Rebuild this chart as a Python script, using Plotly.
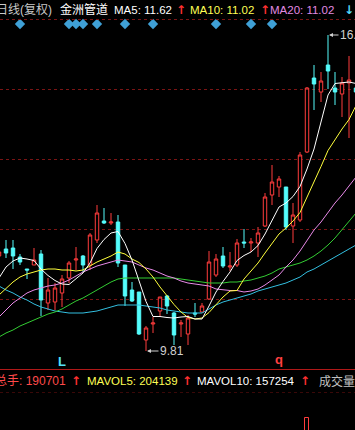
import plotly.graph_objects as go

# ---------------- data ----------------
idx = list(range(52))
opens = [11.71, 11.85, 11.87, 11.69, 11.45, 11.53, 11.75, 10.77, 10.79, 10.97,
         11.27, 11.63, 11.71, 11.53, 12.03, 12.41, 12.37, 12.39, 11.53, 11.03,
         10.99, 10.03, 10.35, 10.61, 10.91, 10.57, 10.35, 10.15, 10.57, 10.59,
         10.85, 11.33, 11.71, 11.49, 11.53, 11.99, 11.97, 11.97, 12.31, 12.93,
         13.09, 13.09, 12.31, 12.43, 13.79, 15.27, 14.99, 15.53, 15.07, 14.95,
         15.17, 15.07]
highs = [11.87, 12.03, 12.03, 11.75, 11.45, 11.87, 11.83, 11.27, 11.17, 11.33,
         11.61, 11.89, 11.73, 12.17, 12.73, 12.67, 12.57, 12.53, 11.53, 11.19,
         10.99, 10.31, 10.49, 10.89, 10.93, 10.59, 10.43, 10.53, 10.77, 10.77,
         11.81, 11.75, 11.89, 11.79, 12.05, 12.25, 12.07, 12.29, 12.97, 13.53,
         13.31, 13.09, 12.77, 13.79, 15.09, 15.53, 15.39, 16.13, 15.39, 15.29,
         15.71, 15.23]
lows = [11.67, 11.67, 11.45, 11.53, 11.25, 11.53, 10.51, 10.63, 10.63, 10.69,
        11.17, 11.43, 11.39, 11.43, 11.97, 12.35, 12.33, 11.49, 10.71, 10.79,
        10.13, 9.81, 10.17, 10.49, 10.55, 9.93, 10.09, 9.93, 10.49, 10.59,
        10.83, 11.29, 11.47, 11.41, 11.49, 11.87, 11.79, 11.69, 12.29, 12.73,
        12.89, 12.23, 11.97, 12.39, 13.77, 14.63, 14.79, 15.05, 14.73, 14.49,
        14.07, 14.83]
closes = [11.79, 11.77, 11.71, 11.59, 11.43, 11.63, 10.83, 11.03, 11.07, 11.25,
          11.57, 11.65, 11.53, 12.13, 12.57, 12.37, 12.39, 11.57, 10.91, 10.81,
          10.15, 10.27, 10.37, 10.89, 10.71, 10.13, 10.37, 10.47, 10.55, 10.71,
          11.59, 11.65, 11.51, 11.51, 11.97, 11.97, 11.99, 12.17, 12.89, 13.19,
          13.25, 12.29, 12.53, 13.73, 15.07, 15.15, 15.21, 15.41, 14.99, 15.17,
          15.23, 14.99]

ma5 = [11.27, 11.49, 11.61, 11.67, 11.65, 11.62, 11.45, 11.32, 11.22, 11.15,
       11.14, 11.26, 11.37, 11.57, 11.86, 12.04, 12.17, 12.20, 11.96, 11.63,
       11.22, 10.80, 10.50, 10.50, 10.48, 10.47, 10.49, 10.50, 10.45, 10.45,
       10.71, 10.99, 11.20, 11.39, 11.62, 11.72, 11.79, 11.92, 12.15, 12.42,
       12.69, 12.77, 12.90, 13.10, 13.45, 13.85, 14.40, 14.93, 15.16, 15.18,
       15.19, 15.16]
ma10 = [10.93, 11.07, 11.19, 11.29, 11.35, 11.39, 11.43, 11.45, 11.45, 11.43,
        11.43, 11.41, 11.43, 11.51, 11.59, 11.65, 11.71, 11.79, 11.75, 11.65,
        11.58, 11.45, 11.29, 11.09, 10.91, 10.74, 10.59, 10.48, 10.45, 10.47,
        10.58, 10.73, 10.89, 11.01, 11.02, 11.25, 11.41, 11.57, 11.77, 11.96,
        12.15, 12.27, 12.41, 12.58, 12.88, 13.18, 13.50, 13.82, 14.04, 14.25,
        14.44, 14.72]
ma20 = [10.49, 10.63, 10.77, 10.87, 10.97, 11.03, 11.07, 11.11, 11.13, 11.17,
        11.23, 11.31, 11.39, 11.45, 11.51, 11.55, 11.59, 11.63, 11.61, 11.59,
        11.53, 11.47, 11.43, 11.37, 11.31, 11.27, 11.21, 11.17, 11.15, 11.13,
        11.11, 11.05, 11.03, 11.02, 11.02, 10.99, 11.01, 11.05, 11.13, 11.23,
        11.33, 11.49, 11.63, 11.81, 12.03, 12.23, 12.39, 12.59, 12.77, 12.93,
        13.11, 13.29]
ma30 = [10.09, 10.17, 10.23, 10.31, 10.37, 10.43, 10.49, 10.55, 10.59, 10.65,
        10.73, 10.81, 10.87, 10.95, 11.03, 11.11, 11.19, 11.25, 11.27, 11.27,
        11.27, 11.27, 11.27, 11.27, 11.27, 11.27, 11.25, 11.23, 11.21, 11.19,
        11.17, 11.17, 11.17, 11.19, 11.19, 11.21, 11.23, 11.27, 11.31, 11.37,
        11.45, 11.49, 11.53, 11.57, 11.63, 11.71, 11.81, 11.93, 12.07, 12.23,
        12.39, 12.57]
ma60 = [11.11, 11.03, 10.97, 10.89, 10.83, 10.75, 10.69, 10.65, 10.61, 10.59,
        10.57, 10.57, 10.57, 10.59, 10.61, 10.65, 10.69, 10.73, 10.73, 10.73,
        10.73, 10.71, 10.69, 10.67, 10.63, 10.61, 10.59, 10.57, 10.57, 10.57,
        10.65, 10.73, 10.79, 10.83, 10.87, 10.91, 10.95, 11.01, 11.05, 11.09,
        11.13, 11.17, 11.23, 11.29, 11.39, 11.45, 11.53, 11.61, 11.69, 11.77,
        11.85, 11.93]

signal_idx = [3, 10, 11, 12, 14, 18, 22, 31, 36, 39]
vol_idx = [44]
vol_val = [297000]

low_idx, low_val = 21, 9.81
high_idx, high_val = 47, 16.13
grid_prices = [15.05, 13.65, 12.25, 10.85]

# ---------------- layout helpers ----------------
W, H = 355, 430
def pxx(x):
    return x / W
def pxy(y):
    return (H - y) / H

UP = "#ff3c3c"
DN = "#54fcfc"
FONT = "Liberation Sans, Arial, Noto Sans CJK SC"
ARROWFONT = "DejaVu Sans"

fig = go.Figure()

fig.add_trace(go.Candlestick(
    x=idx, open=opens, high=highs, low=lows, close=closes,
    increasing=dict(line=dict(color=UP, width=1), fillcolor="#000000"),
    decreasing=dict(line=dict(color=DN, width=1), fillcolor=DN),
    whiskerwidth=0, xaxis="x", yaxis="y", hoverinfo="skip",
))

for vals, col in [(ma60, "#33bfe0"), (ma30, "#33cc33"), (ma20, "#e88ae8"),
                  (ma10, "#ffff3c"), (ma5, "#ffffff")]:
    fig.add_trace(go.Scatter(x=idx, y=vals, mode="lines",
                             line=dict(color=col, width=1),
                             xaxis="x", yaxis="y", hoverinfo="skip"))

# signal diamonds (full-height axis in paper units)
fig.add_trace(go.Scatter(x=signal_idx, y=[pxy(24)] * len(signal_idx),
                         mode="markers", xaxis="x", yaxis="y3",
                         marker=dict(symbol="diamond", size=8, color="#3fa0d6",
                                     line=dict(width=0)),
                         hoverinfo="skip", cliponaxis=False))

# volume bars (only tops visible)
fig.add_trace(go.Bar(x=vol_idx, y=vol_val, width=0.7, xaxis="x", yaxis="y2",
                     marker=dict(color="#000000", line=dict(color=UP, width=1)),
                     hoverinfo="skip"))

xr = [1 / 7, 356 / 7]
fig.update_layout(
    width=W, height=H, margin=dict(l=0, r=0, t=0, b=0),
    paper_bgcolor="#000000", plot_bgcolor="rgba(0,0,0,0)",
    showlegend=False, bargap=0,
    xaxis=dict(range=xr, visible=False, rangeslider=dict(visible=False),
               fixedrange=True),
    yaxis=dict(domain=[pxy(369), pxy(19)], range=[9.45, 16.45],
               tickvals=grid_prices, showticklabels=False, showgrid=True,
               gridcolor="#7a1414", griddash="dot", gridwidth=1,
               zeroline=False, showline=False),
    yaxis2=dict(domain=[0, pxy(392)], range=[250000, 400000], visible=False),
    yaxis3=dict(domain=[0, 1], range=[0, 1], visible=False),
)

shapes = [
    dict(type="line", xref="paper", yref="paper", x0=0, x1=1,
         y0=pxy(19.5), y1=pxy(19.5), line=dict(color="#7a1414", width=1, dash="dot")),
    dict(type="line", xref="paper", yref="paper", x0=0, x1=1,
         y0=pxy(369.5), y1=pxy(369.5), line=dict(color="#b01818", width=1)),
    dict(type="line", xref="paper", yref="paper", x0=0, x1=1,
         y0=pxy(392.5), y1=pxy(392.5), line=dict(color="#3a0808", width=1, dash="dot")),
]
fig.update_layout(shapes=shapes)

ann = []
def label(text, x, y, color, size=11.5, bold=False, family=FONT):
    t = f"<b>{text}</b>" if bold else text
    ann.append(dict(text=t, x=pxx(x), y=pxy(y), xref="paper", yref="paper",
                    xanchor="left", yanchor="middle", showarrow=False,
                    font=dict(family=family, size=size, color=color)))

# header
label("日线(复权)", -6, 9.5, "#c8c8c8", size=12)
label("金洲管道", 58, 9.5, "#ffffff", size=12)
label("MA5: 11.62", 112, 9.5, "#ffffff")
label("↑", 174, 9.5, "#ff3030", size=12, bold=True, family=ARROWFONT)
label("MA10: 11.02", 188, 9.5, "#ffff54")
label("↑", 258, 9.5, "#ff3030", size=12, bold=True, family=ARROWFONT)
label("MA20: 11.02", 268, 9.5, "#e08ae0")
label("↓", 342, 9.5, "#54d8f8", size=12, bold=True, family=ARROWFONT)

# volume header
label("总手: 190701", -7, 381, "#ff4a4a", size=12)
label("↑", 69, 381, "#ff3030", size=12, bold=True, family=ARROWFONT)
label("MAVOL5: 204139", 85, 381, "#ffff54")
label("↑", 180, 381, "#ff3030", size=12, bold=True, family=ARROWFONT)
label("MAVOL10: 157254", 195, 381, "#ffffff")
label("↑", 298, 381, "#ff3030", size=12, bold=True, family=ARROWFONT)
label("成交量图", 317, 381, "#c0c0c0", size=12)

# L / q markers
ann.append(dict(text="<b>L</b>", x=9, y=pxy(361), xref="x", yref="paper",
                xanchor="center", yanchor="middle", showarrow=False,
                font=dict(family=FONT, size=13, color="#54e0f8")))
ann.append(dict(text="<b>q</b>", x=40, y=pxy(360), xref="x", yref="paper",
                xanchor="center", yanchor="middle", showarrow=False,
                font=dict(family=FONT, size=13, color="#ff4040")))

# low / high price labels
ann.append(dict(text="9.81", x=low_idx, y=low_val, xref="x", yref="y",
                showarrow=True, ax=26, ay=0, arrowhead=2, arrowsize=0.8,
                arrowwidth=1, arrowcolor="#d0d0d0", standoff=1,
                font=dict(family=FONT, size=12, color="#d0d0d0")))
ann.append(dict(text="16.13", x=high_idx, y=high_val, xref="x", yref="y",
                showarrow=True, ax=34, ay=0, arrowhead=2, arrowsize=0.8,
                arrowwidth=1, arrowcolor="#d0d0d0", standoff=1,
                font=dict(family=FONT, size=12, color="#d0d0d0")))

fig.update_layout(annotations=ann)
fig.write_html("out.html")
